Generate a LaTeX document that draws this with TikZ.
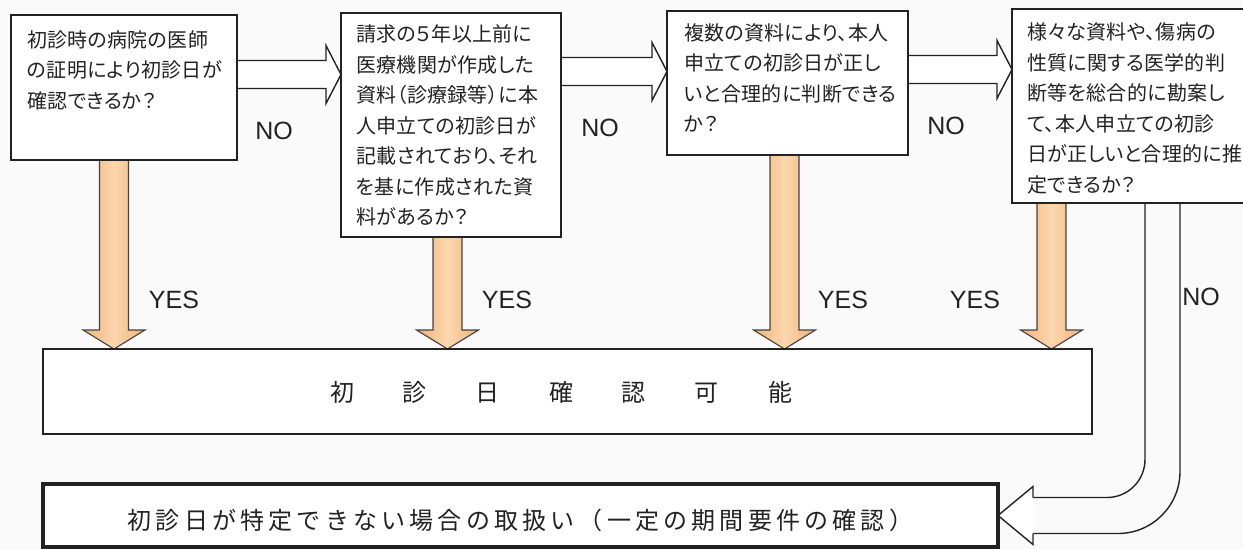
\documentclass[tikz,border=0pt]{standalone}
\usepackage{fontspec}
\setmainfont{Liberation Sans}
\newfontfamily\jp[RawFeature=+palt,LetterSpace=1.5]{Noto Sans CJK JP}
\newfontfamily\jpm{Noto Sans CJK JP}
\newfontfamily\jpb[LetterSpace=17.5]{Noto Sans CJK JP}
\usetikzlibrary{calc}
\definecolor{ink}{HTML}{222222}
\definecolor{bgc}{HTML}{FAFAFA}
\definecolor{ordark}{HTML}{F2B178}
\definecolor{orlight}{HTML}{FBD7AE}
\pgfdeclarelayer{back}
\pgfdeclarelayer{arrows}
\pgfsetlayers{back,arrows,main}
\tikzset{
 box/.style={draw=ink,line width=1.6pt,fill=white,inner sep=0pt,outer sep=0pt,anchor=north west},
 qtext/.style={anchor=north west,inner sep=0pt,align=left,font=\jp\fontsize{20}{30.5}\selectfont,text=ink},
 hollow/.style={draw=ink,line width=1.4pt,fill=white,line join=miter},
 yesarr/.style={draw=ink!85,line width=1.1pt,left color=ordark,right color=ordark,middle color=orlight},
 lbl/.style={font=\fontsize{25}{25}\selectfont,text=ink,inner sep=0pt},
 uline/.style={draw=ink,line width=1.4pt},
}
\newcommand\hollowR[3]{%
 \draw[hollow] ($(#1.east |- 0,#3)+(0,-14)$) -- ($(#2.west |- 0,#3)+(-15,-14)$) -- ($(#2.west |- 0,#3)+(-15,-29)$) -- (#2.west |- 0,#3) -- ($(#2.west |- 0,#3)+(-15,29)$) -- ($(#2.west |- 0,#3)+(-15,14)$) -- ($(#1.east |- 0,#3)+(0,14)$);}
\newcommand\yesarrow[3]{%
 \draw[yesarr] ($(#1.south -| #3,0)+(-14.5,0)$) -- ($(#2.north -| #3,0)+(-14.5,-19)$) -- ($(#2.north -| #3,0)+(-31,-19)$) -- (#2.north -| #3,0) -- ($(#2.north -| #3,0)+(31,-19)$) -- ($(#2.north -| #3,0)+(14.5,-19)$) -- ($(#1.south -| #3,0)+(14.5,0)$);}
\begin{document}
\begin{tikzpicture}[x=1pt,y=-1pt]
\useasboundingbox (0,0) rectangle (1243,549);
\begin{pgfonlayer}{back}
\fill[bgc] (0,0) rectangle (1243,549);
\end{pgfonlayer}
% question boxes
\node[box,minimum width=226,minimum height=145] (b1) at (11,15) {};
\node[box,minimum width=220,minimum height=224] (b2) at (341,13) {};
\node[box,minimum width=241,minimum height=144] (b3) at (667,11) {};
\node[box,minimum width=245,minimum height=194] (b4) at (1012,9) {};
\node[qtext] (t1) at (27,30) {初診時の病院の医師\\の証明により初診日が\\確認できるか？};
\node[qtext] (t2) at (356,24.5) {請求の５年以上前に\\医療機関が作成した\\資料（診療録等）に本\\人申立ての初診日が\\記載されており、それ\\を基に作成された資\\料があるか？};
\node[qtext] (t3) at (684,23) {複数の資料により、本人\\申立ての初診日が正し\\いと合理的に判断できる\\か？};
\node[qtext] (t4) at (1027,22.5) {様々な資料や、傷病の\\性質に関する医学的判\\断等を総合的に勘案し\\て、本人申立ての初診\\日が正しいと合理的に推\\定できるか？};
% result boxes
\node[box,minimum width=1049,minimum height=85] (m) at (43,349) {};
\node[inner sep=0pt,font=\jpm\fontsize{24}{24}\selectfont,text=ink] (mt) at (561,392) {初\hspace{49pt}診\hspace{49pt}日\hspace{49pt}確\hspace{49pt}認\hspace{49pt}可\hspace{49pt}能};
\node[box,line width=3.5pt,minimum width=955,minimum height=63,font=\jpb\fontsize{24}{24}\selectfont,text=ink,text height=31pt,text depth=4pt] (f) at (43,484) {初診日が特定できない場合の取扱い（一定の期間要件の確認）};
% arrows
\begin{pgfonlayer}{arrows}
\hollowR{b1}{b2}{74.5}
\hollowR{b2}{b3}{71.5}
\hollowR{b3}{b4}{69.5}
\yesarrow{b1}{m}{114}
\yesarrow{b2}{m}{447.5}
\yesarrow{b3}{m}{784.5}
\yesarrow{b4}{m}{1051.5}
\draw[uline,rounded corners=38] (b4.south -| 1145,0) |- ($(f.east)+(35,-18)$);
\draw[uline,rounded corners=62] (b4.south -| 1180,0) |- ($(f.east)+(35,18)$);
\draw[uline,fill=white,line join=miter] ($(f.east)+(35,-18)$) -- ++(0,-11) -- (f.east) -- ($(f.east)+(35,29)$) -- ++(0,-11);
\end{pgfonlayer}
% labels
\node[lbl] (n1) at (274,131) {NO};
\node[lbl] (n2) at (600,128) {NO};
\node[lbl] (n3) at (946,126) {NO};
\node[lbl] (n4) at (1201,297) {NO};
\node[lbl] (y1) at (174,300) {YES};
\node[lbl] (y2) at (507,300) {YES};
\node[lbl] (y3) at (843,300) {YES};
\node[lbl] (y4) at (975,300) {YES};
\end{tikzpicture}
\end{document}
